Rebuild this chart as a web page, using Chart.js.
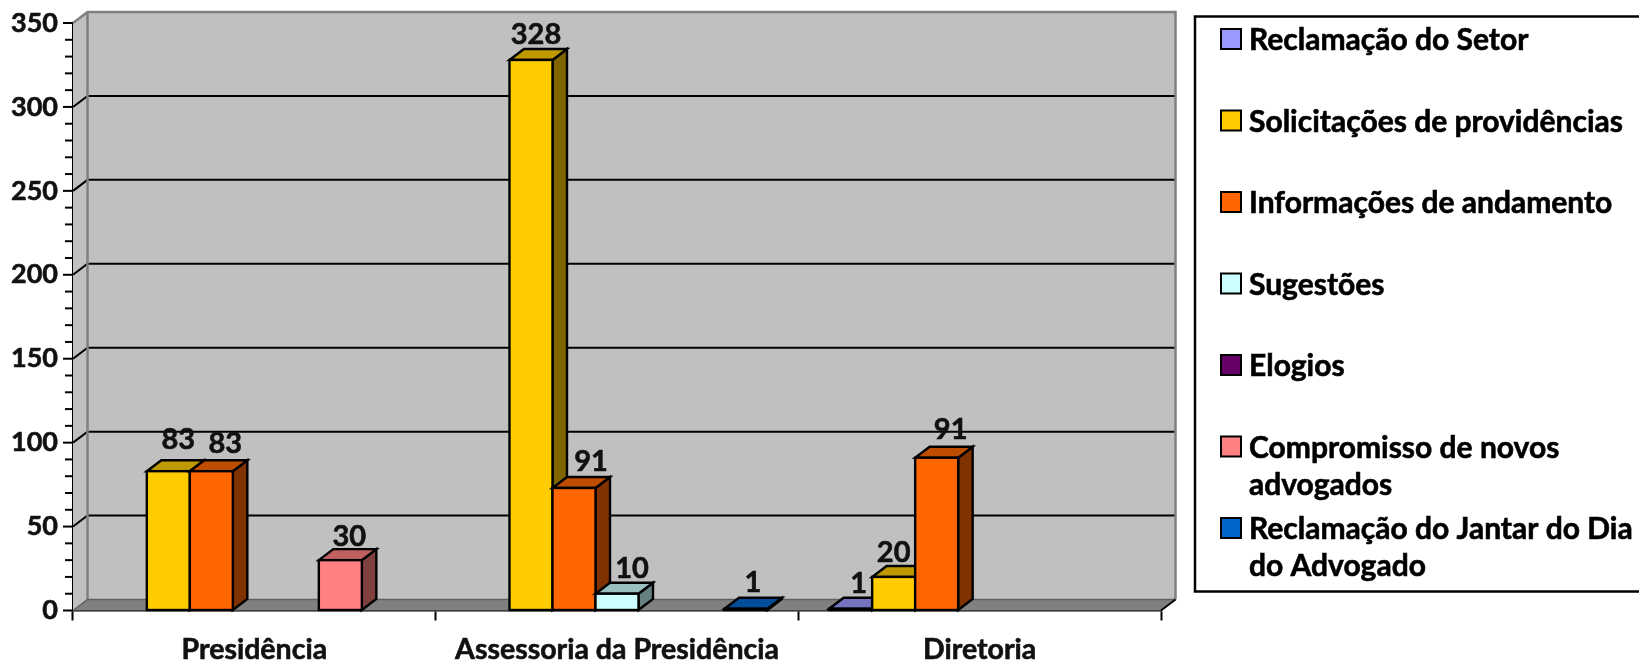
<!DOCTYPE html>
<html>
<head>
<meta charset="utf-8">
<style>
  html, body { margin: 0; padding: 0; background: #fff; }
  canvas { display: block; }
</style>
<script src="https://cdn.jsdelivr.net/npm/chart.js@4/dist/chart.umd.min.js"></script>
</head>
<body>
<canvas id="grafico" width="1639" height="661"></canvas>
<script>
const categorias = ["Presidência", "Assessoria da Presidência", "Diretoria"];

const reclamacaoSetor = [null, null, 1];
const solicitacoes = [83, 328, 20];
const informacoes = [83, 73, 91];
const sugestoes = [null, 10, null];
const elogios = [null, null, null];
const compromisso = [30, null, null];
const reclamacaoJantar = [null, 1, null];

// the 91 over Assessoria is printed on a bar that is only about 73 tall
const informacoesRotulos = [83, 91, 91];

const nomesSeries = [
  "Reclamação do Setor",
  "Solicitações de providências",
  "Informações de andamento",
  "Sugestões",
  "Elogios",
  ["Compromisso de novos", "advogados"],
  ["Reclamação do Jantar do Dia", "do Advogado"]
];
const valoresSeries = [reclamacaoSetor, solicitacoes, informacoes, sugestoes, elogios, compromisso, reclamacaoJantar];
const coresSeries = ["#9999ff", "#ffcc00", "#ff6600", "#ccffff", "#660066", "#ff8080", "#0066cc"];

const FONTE = "Lato, Carlito, sans-serif";
const DX = 14.5, DY = -11;

// where each value label sits relative to its bar top, "series:category"
const ajusteRotulo = {
  "1:0": [10, -32], "2:0": [14, -28], "5:0": [9, -24],
  "1:1": [5, -25], "2:1": [17, -26], "3:1": [15, -25], "6:1": [7, -26],
  "0:2": [8, -25], "1:2": [0, -24], "2:2": [14, -28]
};

function escurecer(hex, f) {
  const n = parseInt(hex.slice(1), 16);
  const c = [n >> 16, (n >> 8) & 255, n & 255].map(v => Math.round(v * f));
  return `rgb(${c[0]},${c[1]},${c[2]})`;
}

function poligono(ctx, pts, fill, stroke, lw) {
  ctx.beginPath();
  pts.forEach((p, i) => i ? ctx.lineTo(p[0], p[1]) : ctx.moveTo(p[0], p[1]));
  ctx.closePath();
  if (fill) { ctx.fillStyle = fill; ctx.fill(); }
  if (stroke) { ctx.strokeStyle = stroke; ctx.lineWidth = lw; ctx.lineJoin = "miter"; ctx.stroke(); }
}

function desenharParedes(chart) {
  const { ctx, chartArea: a, scales: { y } } = chart;
  const x0 = a.left, x1 = a.right, base = a.bottom, topo = a.top;
  // walls and floor
  poligono(ctx, [[x0 + DX, topo + DY], [x1 + DX, topo + DY], [x1 + DX, base + DY], [x0 + DX, base + DY]], "#c0c0c0");
  poligono(ctx, [[x0, topo], [x0 + DX, topo + DY], [x0 + DX, base + DY], [x0, base]], "#c0c0c0");
  poligono(ctx, [[x0, base], [x0 + DX, base + DY], [x1 + DX, base + DY], [x1, base]], "#808080");
  // gridlines every 50
  ctx.strokeStyle = "#000";
  ctx.lineWidth = 2;
  y.ticks.filter(t => t.value % 50 === 0 && t.value > 0 && t.value < 350).forEach(t => {
    const py = y.getPixelForValue(t.value);
    ctx.beginPath();
    ctx.moveTo(x0, py);
    ctx.lineTo(x0 + DX, py + DY);
    ctx.lineTo(x1 + DX, py + DY);
    ctx.stroke();
  });
  // wall edges
  ctx.strokeStyle = "#808080";
  ctx.lineWidth = 2.5;
  ctx.beginPath();
  ctx.moveTo(x0, topo);
  ctx.lineTo(x0 + DX, topo + DY);
  ctx.lineTo(x1 + DX, topo + DY);
  ctx.lineTo(x1 + DX, base + DY);
  ctx.moveTo(x0 + DX, topo + DY);
  ctx.lineTo(x0 + DX, base + DY);
  ctx.stroke();
  ctx.strokeStyle = "#606060";
  ctx.lineWidth = 1.5;
  ctx.beginPath();
  ctx.moveTo(x0, base);
  ctx.lineTo(x0 + DX, base + DY);
  ctx.lineTo(x1 + DX, base + DY);
  ctx.stroke();
  ctx.strokeStyle = "#000";
  ctx.lineWidth = 2;
  ctx.beginPath();
  ctx.moveTo(x1, base);
  ctx.lineTo(x1 + DX, base + DY);
  ctx.stroke();
  // y ticks: long at labelled values, short between
  y.ticks.forEach(t => {
    const py = y.getPixelForValue(t.value);
    ctx.beginPath();
    ctx.moveTo(x0, py);
    ctx.lineTo(x0 - (t.value % 50 === 0 ? 10 : 8), py);
    ctx.stroke();
  });
}

const barras3d = {
  id: "barras3d",
  beforeDatasetsDraw(chart) {
    chart.ctx.save();
    desenharParedes(chart);
    chart.ctx.restore();
  },
  // the library paints dataset 0 last; here the bars have to go left to right
  beforeDatasetDraw() {
    return false;
  },
  afterDatasetsDraw(chart) {
    const { ctx, data } = chart;
    ctx.save();
    data.datasets.forEach((ds, i) => {
      chart.getDatasetMeta(i).data.forEach((b, j) => {
        if (ds.data[j] == null) return;
        const e = b.x - b.width / 2, d = b.x + b.width / 2;
        poligono(ctx, [[d, b.y], [d + DX, b.y + DY], [d + DX, b.base + DY], [d, b.base]], escurecer(ds.backgroundColor, 0.5), "#000", 2.4);
        poligono(ctx, [[e, b.y], [e + DX, b.y + DY], [d + DX, b.y + DY], [d, b.y]], escurecer(ds.backgroundColor, 0.75), "#000", 2.4);
        b.draw(ctx);
        ctx.strokeStyle = "#000";
        ctx.lineWidth = 2.4;
        ctx.strokeRect(e, b.y, b.width, b.base - b.y);
      });
    });
    ctx.font = `bold 29px ${FONTE}`;
    ctx.fillStyle = "#111";
    ctx.strokeStyle = "#111";
    ctx.lineWidth = 0.6;
    ctx.textAlign = "center";
    ctx.textBaseline = "middle";
    data.datasets.forEach((ds, i) => {
      chart.getDatasetMeta(i).data.forEach((b, j) => {
        if (ds.data[j] == null) return;
        const texto = String(ds.rotulos ? ds.rotulos[j] : ds.data[j]);
        const aj = ajusteRotulo[`${i}:${j}`] || [9, -26];
        ctx.fillText(texto, b.x + aj[0], b.y + aj[1]);
        ctx.strokeText(texto, b.x + aj[0], b.y + aj[1]);
      });
    });
    ctx.restore();
  }
};

const legendaLateral = {
  id: "legendaLateral",
  afterDraw(chart) {
    const { ctx, data } = chart;
    ctx.save();
    ctx.strokeStyle = "#000";
    ctx.lineWidth = 2.5;
    ctx.beginPath();
    ctx.moveTo(1640, 16.5);
    ctx.lineTo(1195, 16.5);
    ctx.lineTo(1195, 591.5);
    ctx.lineTo(1640, 591.5);
    ctx.stroke();
    ctx.font = `bold 30px ${FONTE}`;
    ctx.textAlign = "left";
    ctx.textBaseline = "alphabetic";
    data.datasets.forEach((ds, i) => {
      const cy = 39 + i * 81.5;
      ctx.fillStyle = ds.backgroundColor;
      ctx.strokeStyle = "#000";
      ctx.lineWidth = 2;
      ctx.fillRect(1221, cy - 10, 20, 20);
      ctx.strokeRect(1221, cy - 10, 20, 20);
      ctx.fillStyle = "#000";
      ctx.lineWidth = 0.6;
      [].concat(ds.label).forEach((linha, k) => {
        ctx.fillText(linha, 1249, cy + 11 + k * 37);
        ctx.strokeText(linha, 1249, cy + 11 + k * 37);
      });
    });
    ctx.restore();
  }
};

new Chart(document.getElementById("grafico"), {
  type: "bar",
  data: {
    labels: categorias,
    datasets: nomesSeries.map((nome, i) => ({
      label: nome,
      data: valoresSeries[i],
      rotulos: i === 2 ? informacoesRotulos : null,
      backgroundColor: coresSeries[i],
      borderWidth: 0
    }))
  },
  options: {
    responsive: false,
    animation: false,
    events: [],
    layout: { padding: { left: 0, right: 478, top: 23, bottom: 0 } },
    categoryPercentage: 0.83,
    barPercentage: 1,
    plugins: { legend: { display: false }, tooltip: { enabled: false } },
    scales: {
      x: {
        afterFit: s => { s.height = 50.5; s.paddingLeft = 0; s.paddingRight = 0; },
        border: { color: "#000", width: 2.5 },
        grid: { drawOnChartArea: false, drawTicks: true, tickLength: 10, tickWidth: 2, tickColor: "#000", offset: true },
        ticks: { color: "#111", padding: 12, maxRotation: 0, textStrokeColor: "#111", textStrokeWidth: 0.6, font: { family: FONTE, weight: "bold", size: 28.5 } }
      },
      y: {
        min: 0,
        max: 350,
        afterFit: s => { s.width = 73; s.paddingTop = 0; s.paddingBottom = 0; },
        border: { color: "#000", width: 2 },
        grid: { display: true, drawOnChartArea: false, drawTicks: false },
        ticks: {
          stepSize: 10,
          autoSkip: false,
          padding: 15,
          color: "#111",
          textStrokeColor: "#111",
          textStrokeWidth: 0.6,
          font: { family: FONTE, weight: "bold", size: 27 },
          callback: v => (v % 50 === 0 ? String(v) : "")
        }
      }
    }
  },
  plugins: [barras3d, legendaLateral]
});
</script>
</body>
</html>
